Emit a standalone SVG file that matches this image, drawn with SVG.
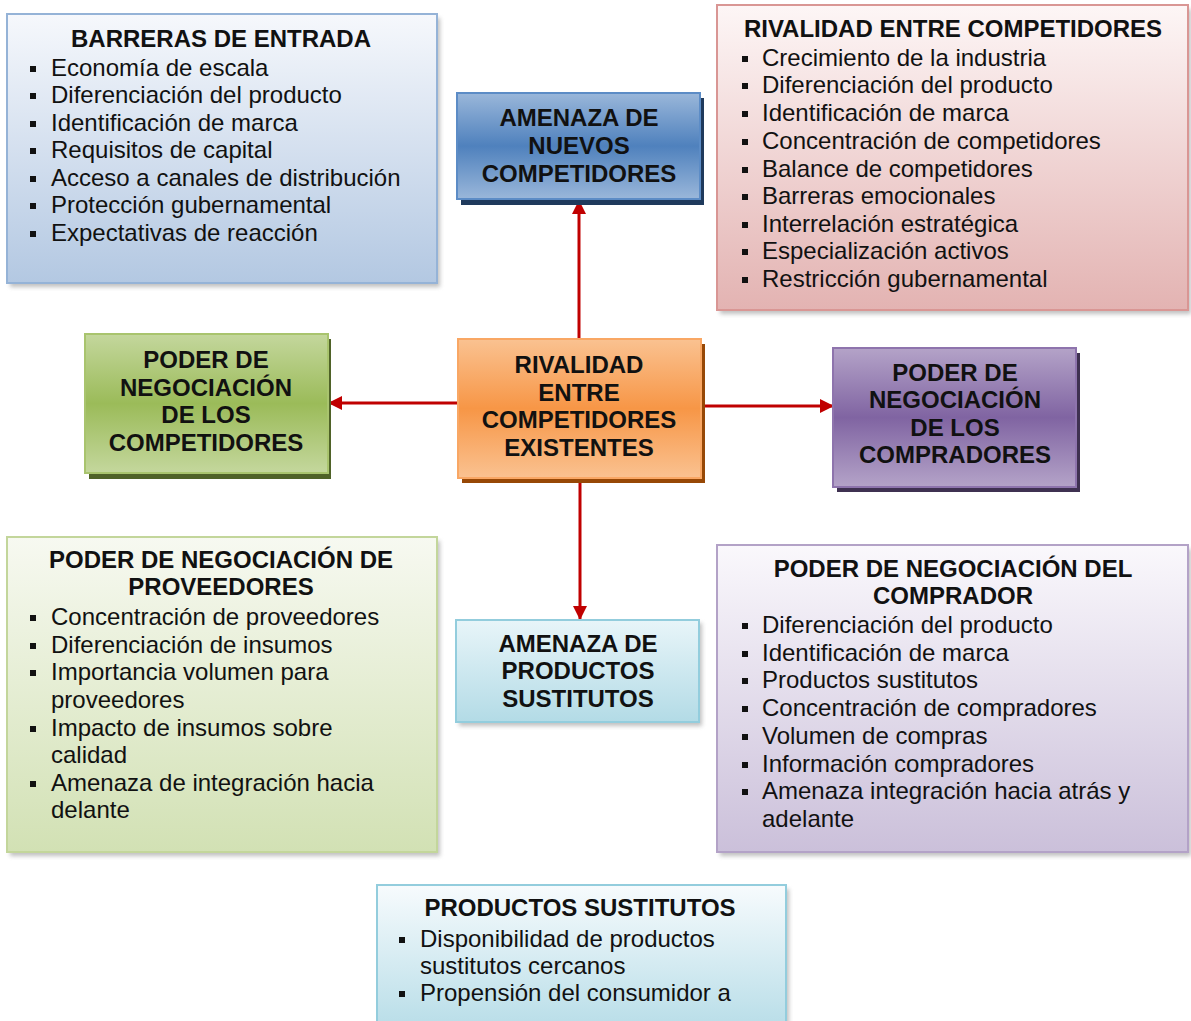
<svg xmlns="http://www.w3.org/2000/svg" width="1191" height="1021" viewBox="0 0 1191 1021">
<defs>
  <linearGradient id="gBlueList" x1="0" y1="0" x2="0" y2="1"><stop offset="0" stop-color="#f6f8fc"/><stop offset="1" stop-color="#b3c8e2"/></linearGradient>
  <linearGradient id="gPinkList" x1="0" y1="0" x2="0" y2="1"><stop offset="0" stop-color="#fdf6f6"/><stop offset="1" stop-color="#e3b3b2"/></linearGradient>
  <linearGradient id="gGreenList" x1="0" y1="0" x2="0" y2="1"><stop offset="0" stop-color="#f7f9f1"/><stop offset="1" stop-color="#d2e1b4"/></linearGradient>
  <linearGradient id="gPurpleList" x1="0" y1="0" x2="0" y2="1"><stop offset="0" stop-color="#faf8fc"/><stop offset="1" stop-color="#cbc0da"/></linearGradient>
  <linearGradient id="gCyanList" x1="0" y1="0" x2="0" y2="1"><stop offset="0" stop-color="#f7fbfd"/><stop offset="1" stop-color="#b5dce7"/></linearGradient>
  <linearGradient id="gCyanNode" x1="0" y1="0" x2="0" y2="1"><stop offset="0" stop-color="#e8f5f9"/><stop offset="1" stop-color="#b3dbe6"/></linearGradient>
  <linearGradient id="gBlue" x1="0" y1="0" x2="0" y2="1"><stop offset="0" stop-color="#9ab7da"/><stop offset="0.5" stop-color="#4f81bd"/><stop offset="1" stop-color="#9ab7da"/></linearGradient>
  <linearGradient id="gGreen" x1="0" y1="0" x2="0" y2="1"><stop offset="0" stop-color="#c4d79d"/><stop offset="0.5" stop-color="#9bbb59"/><stop offset="1" stop-color="#c4d79d"/></linearGradient>
  <linearGradient id="gOrange" x1="0" y1="0" x2="0" y2="1"><stop offset="0" stop-color="#fac291"/><stop offset="0.5" stop-color="#f79646"/><stop offset="1" stop-color="#fac291"/></linearGradient>
  <linearGradient id="gPurple" x1="0" y1="0" x2="0" y2="1"><stop offset="0" stop-color="#b4a3c8"/><stop offset="0.5" stop-color="#8064a2"/><stop offset="1" stop-color="#b4a3c8"/></linearGradient>
  <filter id="soft" x="-5%" y="-5%" width="115%" height="115%">
    <feGaussianBlur stdDeviation="2"/>
  </filter>
  <marker id="ah" viewBox="0 0 14 14" refX="13" refY="7" markerWidth="14" markerHeight="14" markerUnits="userSpaceOnUse" orient="auto">
    <path d="M0,0 L14,7 L0,14 z" fill="#c00000"/>
  </marker>
  <style>
    .t{font-family:"Liberation Sans",Arial,sans-serif;font-size:24px;fill:#111}
    .b{font-weight:bold}
    .c{text-anchor:middle}
    .sh{fill:#8c8c8c;opacity:0.55;filter:url(#soft)}
    .bul{fill:#111}
    .conn{stroke:#c00000;stroke-width:3;fill:none;marker-end:url(#ah)}
  </style>
</defs>
<rect width="1191" height="1021" fill="#ffffff"/>

<g id="connectors">
  <line class="conn" x1="579" y1="340" x2="579" y2="201"/>
  <line class="conn" x1="458" y1="403" x2="329" y2="403"/>
  <line class="conn" x1="701" y1="406" x2="833" y2="406"/>
  <line class="conn" x1="580" y1="478" x2="580" y2="619"/>
</g>

<g id="barreras-entrada">
  <rect class="sh" x="10" y="18" width="430" height="269"/>
  <rect x="7" y="14" width="430" height="269" fill="url(#gBlueList)" stroke="#95b3d7" stroke-width="2"/>
  <text class="t b c" x="221" y="47">BARRERAS DE ENTRADA</text>
  <g class="bul"><rect x="30" y="66" width="6" height="6"/><rect x="30" y="93" width="6" height="6"/><rect x="30" y="121" width="6" height="6"/><rect x="30" y="148" width="6" height="6"/><rect x="30" y="176" width="6" height="6"/><rect x="30" y="203" width="6" height="6"/><rect x="30" y="231" width="6" height="6"/></g>
  <text class="t" x="51" y="76">Economía de escala</text>
  <text class="t" x="51" y="103">Diferenciación del producto</text>
  <text class="t" x="51" y="131">Identificación de marca</text>
  <text class="t" x="51" y="158">Requisitos de capital</text>
  <text class="t" x="51" y="186">Acceso a canales de distribución</text>
  <text class="t" x="51" y="213">Protección gubernamental</text>
  <text class="t" x="51" y="241">Expectativas de reacción</text>
</g>

<g id="amenaza-nuevos">
  <rect x="461" y="98" width="243" height="107" fill="#1f3a5c"/>
  <rect x="457" y="93" width="243" height="106" fill="url(#gBlue)" stroke="#5c8cc6" stroke-width="2"/>
  <text class="t b c" x="579" y="126">AMENAZA DE</text>
  <text class="t b c" x="579" y="154">NUEVOS</text>
  <text class="t b c" x="579" y="182">COMPETIDORES</text>
</g>

<g id="rivalidad-lista">
  <rect class="sh" x="720" y="9" width="471" height="305"/>
  <rect x="717" y="5" width="471" height="305" fill="url(#gPinkList)" stroke="#d99694" stroke-width="2"/>
  <text class="t b c" x="953" y="37">RIVALIDAD ENTRE COMPETIDORES</text>
  <g class="bul"><rect x="742" y="56" width="6" height="6"/><rect x="742" y="83" width="6" height="6"/><rect x="742" y="111" width="6" height="6"/><rect x="742" y="139" width="6" height="6"/><rect x="742" y="167" width="6" height="6"/><rect x="742" y="194" width="6" height="6"/><rect x="742" y="222" width="6" height="6"/><rect x="742" y="249" width="6" height="6"/><rect x="742" y="277" width="6" height="6"/></g>
  <text class="t" x="762" y="66">Crecimiento de la industria</text>
  <text class="t" x="762" y="93">Diferenciación del producto</text>
  <text class="t" x="762" y="121">Identificación de marca</text>
  <text class="t" x="762" y="149">Concentración de competidores</text>
  <text class="t" x="762" y="177">Balance de competidores</text>
  <text class="t" x="762" y="204">Barreras emocionales</text>
  <text class="t" x="762" y="232">Interrelación estratégica</text>
  <text class="t" x="762" y="259">Especialización activos</text>
  <text class="t" x="762" y="287">Restricción gubernamental</text>
</g>

<g id="poder-competidores">
  <rect x="89" y="339" width="242" height="140" fill="#4f6228"/>
  <rect x="85" y="334" width="243" height="139" fill="url(#gGreen)" stroke="#a9c46e" stroke-width="2"/>
  <text class="t b c" x="206" y="368">PODER DE</text>
  <text class="t b c" x="206" y="396">NEGOCIACIÓN</text>
  <text class="t b c" x="206" y="423">DE LOS</text>
  <text class="t b c" x="206" y="451">COMPETIDORES</text>
</g>

<g id="rivalidad-centro">
  <rect x="462" y="344" width="243" height="139" fill="#974806"/>
  <rect x="458" y="339" width="243" height="139" fill="url(#gOrange)" stroke="#f9a764" stroke-width="2"/>
  <text class="t b c" x="579" y="373">RIVALIDAD</text>
  <text class="t b c" x="579" y="401">ENTRE</text>
  <text class="t b c" x="579" y="428">COMPETIDORES</text>
  <text class="t b c" x="579" y="456">EXISTENTES</text>
</g>

<g id="poder-compradores">
  <rect x="837" y="353" width="243" height="139" fill="#3f3151"/>
  <rect x="833" y="348" width="243" height="139" fill="url(#gPurple)" stroke="#8e74ad" stroke-width="2"/>
  <text class="t b c" x="955" y="381">PODER DE</text>
  <text class="t b c" x="955" y="408">NEGOCIACIÓN</text>
  <text class="t b c" x="955" y="436">DE LOS</text>
  <text class="t b c" x="955" y="463">COMPRADORES</text>
</g>

<g id="poder-proveedores-lista">
  <rect class="sh" x="10" y="541" width="430" height="315"/>
  <rect x="7" y="537" width="430" height="315" fill="url(#gGreenList)" stroke="#c3d69b" stroke-width="2"/>
  <text class="t b c" x="221" y="568">PODER DE NEGOCIACIÓN DE</text>
  <text class="t b c" x="221" y="595">PROVEEDORES</text>
  <g class="bul"><rect x="30" y="615" width="6" height="6"/><rect x="30" y="643" width="6" height="6"/><rect x="30" y="670" width="6" height="6"/><rect x="30" y="726" width="6" height="6"/><rect x="30" y="781" width="6" height="6"/></g>
  <text class="t" x="51" y="625">Concentración de proveedores</text>
  <text class="t" x="51" y="653">Diferenciación de insumos</text>
  <text class="t" x="51" y="680">Importancia volumen para</text>
  <text class="t" x="51" y="708">proveedores</text>
  <text class="t" x="51" y="736">Impacto de insumos sobre</text>
  <text class="t" x="51" y="763">calidad</text>
  <text class="t" x="51" y="791">Amenaza de integración hacia</text>
  <text class="t" x="51" y="818">delante</text>
</g>

<g id="amenaza-sustitutos">
  <rect class="sh" x="459" y="623" width="243" height="103"/>
  <rect x="456" y="620" width="243" height="102" fill="url(#gCyanNode)" stroke="#93cddd" stroke-width="2"/>
  <text class="t b c" x="578" y="652">AMENAZA DE</text>
  <text class="t b c" x="578" y="679">PRODUCTOS</text>
  <text class="t b c" x="578" y="707">SUSTITUTOS</text>
</g>

<g id="poder-comprador-lista">
  <rect class="sh" x="720" y="549" width="471" height="307"/>
  <rect x="717" y="545" width="471" height="307" fill="url(#gPurpleList)" stroke="#b3a2c7" stroke-width="2"/>
  <text class="t b c" x="953" y="577">PODER DE NEGOCIACIÓN DEL</text>
  <text class="t b c" x="953" y="604">COMPRADOR</text>
  <g class="bul"><rect x="742" y="623" width="6" height="6"/><rect x="742" y="651" width="6" height="6"/><rect x="742" y="678" width="6" height="6"/><rect x="742" y="706" width="6" height="6"/><rect x="742" y="734" width="6" height="6"/><rect x="742" y="762" width="6" height="6"/><rect x="742" y="789" width="6" height="6"/></g>
  <text class="t" x="762" y="633">Diferenciación del producto</text>
  <text class="t" x="762" y="661">Identificación de marca</text>
  <text class="t" x="762" y="688">Productos sustitutos</text>
  <text class="t" x="762" y="716">Concentración de compradores</text>
  <text class="t" x="762" y="744">Volumen de compras</text>
  <text class="t" x="762" y="772">Información compradores</text>
  <text class="t" x="762" y="799">Amenaza integración hacia atrás y</text>
  <text class="t" x="762" y="827">adelante</text>
</g>

<g id="productos-sustitutos-lista">
  <rect class="sh" x="380" y="889" width="409" height="150"/>
  <rect x="377" y="885" width="409" height="150" fill="url(#gCyanList)" stroke="#93cddd" stroke-width="2"/>
  <text class="t b c" x="580" y="916">PRODUCTOS SUSTITUTOS</text>
  <g class="bul"><rect x="399" y="937" width="6" height="6"/><rect x="399" y="991" width="6" height="6"/></g>
  <text class="t" x="420" y="947">Disponibilidad de productos</text>
  <text class="t" x="420" y="974">sustitutos cercanos</text>
  <text class="t" x="420" y="1001">Propensión del consumidor a</text>
</g>
</svg>
